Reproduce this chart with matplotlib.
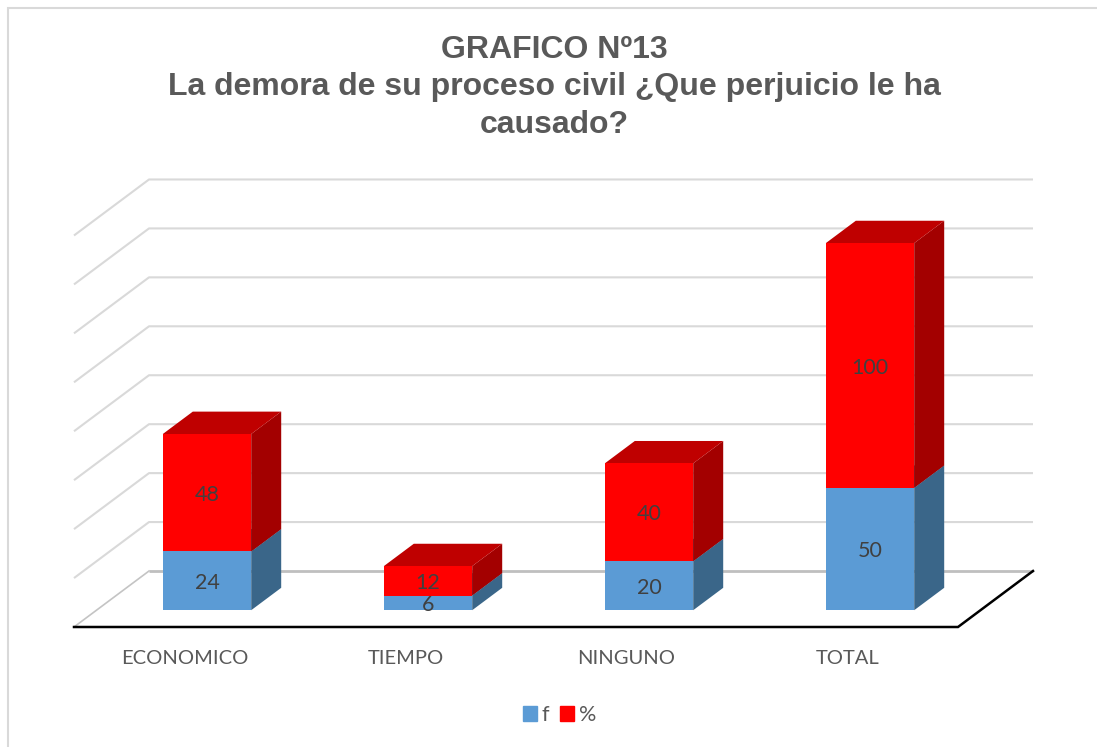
import matplotlib
matplotlib.use("Agg")
import matplotlib.pyplot as plt
from matplotlib.patches import Patch, Polygon

categories = ["ECONOMICO", "TIEMPO", "NINGUNO", "TOTAL"]
f_values = [24, 6, 20, 50]
pct_values = [48, 12, 40, 100]
grid_values = [0, 20, 40, 60, 80, 100, 120, 140, 160]

BLUE = ("#5b9bd5", "#3a6689", "#3a6689")
RED = ("#ff0000", "#a30000", "#bf0000")

# oblique projection: how far one unit of depth moves a point, in data units
PX_X = 221.0
PX_Y = 2.447
DEPTH_X = 75 / PX_X
DEPTH_Y = 56 / PX_Y
BAR_WIDTH = 0.4
BAR_NEAR = 0.3
BAR_FAR = 0.7


def proj(x, v, d=0.0):
    return (x + d * DEPTH_X, v + d * DEPTH_Y)


def draw_box(ax, x, bottom, top, colors, zorder):
    x0 = x - BAR_WIDTH / 2
    x1 = x + BAR_WIDTH / 2
    side = [proj(x1, bottom, BAR_NEAR), proj(x1, top, BAR_NEAR),
            proj(x1, top, BAR_FAR), proj(x1, bottom, BAR_FAR)]
    cap = [proj(x0, top, BAR_NEAR), proj(x1, top, BAR_NEAR),
           proj(x1, top, BAR_FAR), proj(x0, top, BAR_FAR)]
    ax.add_patch(Polygon(side, fc=colors[1], ec="none", zorder=zorder))
    ax.add_patch(Polygon(cap, fc=colors[2], ec="none", zorder=zorder))
    fx, fy = proj(x0, bottom, BAR_NEAR)
    ax.bar(fx, top - bottom, width=BAR_WIDTH, bottom=fy, align="edge",
           color=colors[0], linewidth=0, zorder=zorder + 0.1)


fig = plt.figure(figsize=(10.97, 7.47), dpi=100)
ax = fig.add_axes([0, 0, 1, 1])
# axes covers the whole figure, limits put the floor where the picture has it
ax.set_xlim(-184.5 / PX_X, (1097 - 184.5) / PX_X)
ax.set_ylim((627 - 747) / PX_Y, 627 / PX_Y)
ax.axis("off")

# chart frame, only left and top show in the crop
fig.add_artist(plt.Line2D([7.5 / 1097, 7.5 / 1097, 1], [0, 1 - 8 / 747, 1 - 8 / 747],
                          color="#d9d9d9", lw=1.5, solid_joinstyle="miter"))

# walls
for v in grid_values:
    color = "#bfbfbf" if v == 0 else "#d9d9d9"
    lw = 2.0 if v == 0 else 1.5
    pts = [proj(-0.5, v), proj(-0.5, v, 1), proj(3.5, v, 1)]
    if v == 0:
        pts = pts[1:]
    ax.plot(*zip(*pts), color=color, lw=lw, zorder=1, solid_capstyle="butt")
ax.plot(*zip(proj(-0.5, 0), proj(-0.5, 0, 1)), color="#c4c4c4", lw=1.2, zorder=1)

# floor edges
ax.plot(*zip(proj(-0.5, 0), proj(3.5, 0), proj(3.5, 0, 1)), color="black", lw=1.8,
        zorder=2, solid_joinstyle="miter")

for i in range(len(categories)):
    draw_box(ax, i, 0, f_values[i], BLUE, 3 + i)
    draw_box(ax, i, f_values[i], f_values[i] + pct_values[i], RED, 3 + i + 0.3)
    for mid, val in [(f_values[i] / 2, f_values[i]),
                     (f_values[i] + pct_values[i] / 2, pct_values[i])]:
        tx, ty = proj(i, mid, BAR_NEAR)
        ax.text(tx, ty - 2 / PX_Y, str(val), ha="center", va="center",
                fontsize=15.5, family="Lato", color="#404040", zorder=10)
    ax.text(i, -32 / PX_Y, categories[i], ha="center", va="center",
            fontsize=14.5, family="Lato", color="#595959")

fig.text(554.5 / 1097, 1 - 87.5 / 747, "GRAFICO Nº13\nLa demora de su proceso civil ¿Que perjuicio le ha\ncausado?",
         ha="center", va="center", fontsize=23, fontweight="bold", family="Liberation Sans",
         color="#595959", linespacing=1.33)

handles = [Patch(color=BLUE[0], label="f"), Patch(color=RED[0], label="%")]
fig.legend(handles=handles, loc="center", bbox_to_anchor=(559.5 / 1097, 1 - 715 / 747), ncol=2,
           frameon=False, prop={"family": "Lato", "size": 15.5}, labelcolor="#595959",
           handlelength=0.65, handleheight=0.65, handletextpad=0.2, columnspacing=0.55)

fig.savefig("out.png", dpi=100)
plt.close(fig)
